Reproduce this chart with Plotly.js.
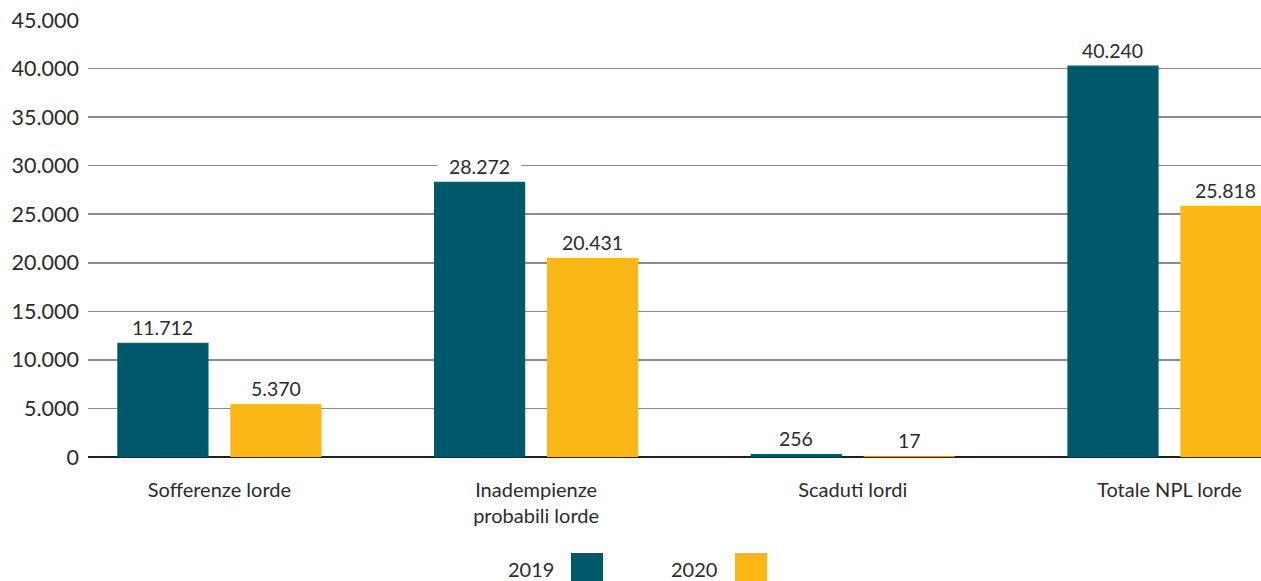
<!DOCTYPE html>
<html>
<head>
<meta charset="utf-8">
<script src="https://cdn.plot.ly/plotly-3.0.1.min.js"></script>
<style>
  html, body { margin: 0; padding: 0; background: #ffffff; }
  #chart { width: 1261px; height: 581px; }
</style>
</head>
<body>
<div id="chart"></div>
<script>
// ---- data ----
const categories = ["Sofferenze lorde", "Inadempienze<br>probabili lorde", "Scaduti lordi", "Totale NPL lorde"];
const values2019 = [11712, 28272, 256, 40240];
const values2020 = [5370, 20431, 17, 25818];
const seriesNames = ["2019", "2020"];
const yTickVals = [0, 5000, 10000, 15000, 20000, 25000, 30000, 35000, 40000, 45000];

// ---- style ----
const colors = ["#00596a", "#fbb716"];
const FONT = "Lato, 'Open Sans', sans-serif";
const textColor = "#2b2b2b";

function fmt(v) {
  return String(v).replace(/\B(?=(\d{3})+(?!\d))/g, ".");
}

const xIdx = categories.map((c, i) => i);
const series = [values2019, values2020];

const traces = series.map((vals, k) => ({
  type: "bar",
  name: seriesNames[k],
  x: xIdx,
  y: vals,
  marker: { color: colors[k], line: { width: 1.2, color: colors[k] } },
  hoverinfo: "skip",
  showlegend: false
}));

// value labels as annotations with white background (interrupt gridlines)
const offsets = [-0.1784, 0.1784];
const annotations = [];
series.forEach((vals, k) => {
  vals.forEach((v, i) => {
    const atRightEdge = (k === series.length - 1 && i === vals.length - 1);
    const pad = atRightEdge ? "" : "\u00a0\u00a0";
    annotations.push({
      x: i + offsets[k], y: v, xref: "x", yref: "y",
      text: pad + fmt(v) + pad,
      showarrow: false, yanchor: "middle", yshift: 16,
      bgcolor: atRightEdge ? "rgba(0,0,0,0)" : "#ffffff", borderpad: 1,
      font: { family: FONT, size: 19.5, color: textColor }
    });
  });
});

// custom legend: text then square
const plotL = 88, plotW = 1173, plotB = 457, plotH = 437;
const px = (x) => (x - plotL) / plotW;
const py = (y) => (plotB - y) / plotH;
const legendItems = [
  { textRight: 556, boxL: 571, boxR: 603 },
  { textRight: 719, boxL: 735, boxR: 767 }
];
const shapes = [];
legendItems.forEach((it, k) => {
  annotations.push({
    x: px(it.textRight), y: py(569), xref: "paper", yref: "paper",
    xanchor: "right", yanchor: "middle", showarrow: false,
    text: seriesNames[k],
    font: { family: FONT, size: 20, color: textColor }
  });
  shapes.push({
    type: "rect", xref: "paper", yref: "paper",
    x0: px(it.boxL), x1: px(it.boxR), y0: py(553), y1: py(585),
    fillcolor: colors[k], line: { width: 0 }
  });
});

const layout = {
  width: 1261, height: 581,
  margin: { l: 88, r: 0, t: 20, b: 124 },
  paper_bgcolor: "#ffffff", plot_bgcolor: "#ffffff",
  separators: ",.",
  barmode: "group",
  bargap: 0.2864,
  bargroupgap: 0.2035,
  font: { family: FONT, color: textColor },
  showlegend: false,
  xaxis: {
    type: "linear",
    range: [-0.415, 3.289],
    tickvals: xIdx,
    ticktext: categories,
    showgrid: false,
    zeroline: false,
    showline: false,
    ticks: "",
    ticklabelstandoff: 19,
    tickfont: { family: FONT, size: 20, color: textColor }
  },
  yaxis: {
    range: [0, 45000],
    tickvals: yTickVals,
    ticktext: yTickVals.map(fmt),
    showgrid: true,
    gridcolor: "#8c8c8c",
    gridwidth: 1.5,
    zeroline: true,
    zerolinecolor: "#231f20",
    zerolinewidth: 2.5,
    showline: false,
    ticks: "",
    ticklabelstandoff: 8,
    tickfont: { family: FONT, size: 21.5, color: textColor }
  },
  annotations: annotations,
  shapes: shapes
};

Plotly.newPlot("chart", traces, layout, { displayModeBar: false, staticPlot: true });
</script>
</body>
</html>
